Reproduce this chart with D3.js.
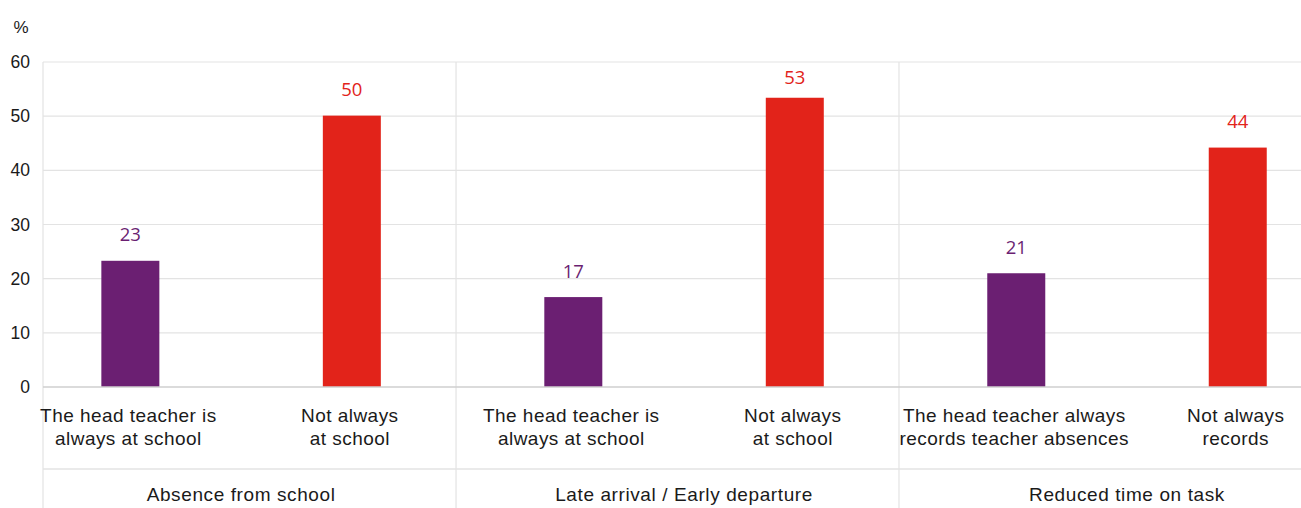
<!DOCTYPE html>
<html><head><meta charset="utf-8">
<script src="https://cdn.jsdelivr.net/npm/d3@7"></script>
<style>
html,body{margin:0;padding:0;background:#fff;}
svg{display:block;}
</style></head>
<body>
<svg id="chart" width="1301" height="508"></svg>
<script>
// ---- data ----
const groups = ["Absence from school", "Late arrival / Early departure", "Reduced time on task"];
const categories = [
  ["The head teacher is", "always at school"],
  ["Not always", "at school"],
  ["The head teacher is", "always at school"],
  ["Not always", "at school"],
  ["The head teacher always", "records teacher absences"],
  ["Not always", "records"]
];
const categoryGroup = [0, 0, 1, 1, 2, 2];
const categoryType = ["always", "notAlways", "always", "notAlways", "always", "notAlways"];
const values = [23.3, 50.1, 16.6, 53.4, 21.0, 44.2];
const valueLabels = ["23", "50", "17", "53", "21", "44"];
const yTicks = [0, 10, 20, 30, 40, 50, 60];
const yUnit = "%";

// ---- layout ----
(function () {
const pLeft = 43, pRight = 1301, pTop = 62, zeroY = 387, pBottom = 508;
const colors = {always: "#6b1f72", notAlways: "#e2231a"};
const grid = "#e3e3e3";
const labelFont = "'Liberation Sans', Arial, sans-serif";

const svg = d3.select("#chart");
const idx = d3.range(categories.length);

const x = d3.scalePoint().domain(idx).range([pLeft, pRight]).padding(0.34).align(0.58);
const bw = 58;
const y = d3.scaleLinear().domain([0, 60]).range([zeroY, pTop]);

// gridlines
svg.append("g").selectAll("line").data(yTicks.filter(t => t > 0)).join("line")
  .attr("x1", pLeft).attr("x2", pRight)
  .attr("y1", d => y(d)).attr("y2", d => y(d))
  .attr("stroke", grid).attr("stroke-width", 1.2);

// dividers between groups
const dividerX = [];
for (let i = 1; i < categories.length; i++) {
  if (categoryGroup[i] !== categoryGroup[i - 1]) {
    const r = x(i - 1) + bw / 2, l = x(i) - bw / 2;
    dividerX.push(r + (l - r) * 0.46);
  }
}
const vlines = [pLeft, ...dividerX];
svg.append("g").selectAll("line").data(vlines).join("line")
  .attr("x1", d => d).attr("x2", d => d)
  .attr("y1", pTop).attr("y2", pBottom)
  .attr("stroke", grid).attr("stroke-width", 1.2);

// separator between category labels and group labels
svg.append("line").attr("x1", pLeft).attr("x2", pRight)
  .attr("y1", 469).attr("y2", 469).attr("stroke", grid).attr("stroke-width", 1.5);

// bars
svg.append("g").selectAll("rect").data(idx).join("rect")
  .attr("x", i => x(i) - bw / 2).attr("width", bw)
  .attr("y", i => y(values[i])).attr("height", i => y(0) - y(values[i]))
  .attr("fill", i => colors[categoryType[i]]);

// zero axis line
svg.append("line").attr("x1", pLeft).attr("x2", pRight)
  .attr("y1", y(0)).attr("y2", y(0)).attr("stroke", "#cfcfcf").attr("stroke-width", 1.5);

// value labels
svg.append("g").selectAll("text").data(idx).join("text")
  .attr("x", i => x(i)).attr("y", i => Math.max(y(values[i]) - 19.5, 84))
  .attr("text-anchor", "middle")
  .attr("font-family", "'Open Sans', 'Noto Sans', sans-serif")
  .attr("font-size", 18.5)
  .attr("fill", i => colors[categoryType[i]])
  .text(i => valueLabels[i]);

// y axis tick labels
const yAxis = d3.axisLeft(y).tickValues(yTicks).tickSize(0).tickPadding(0);
const yg = svg.append("g").attr("transform", "translate(30,0)").call(yAxis);
yg.select(".domain").remove();
yg.selectAll("text").attr("font-family", labelFont)
  .attr("font-size", 17.5).attr("fill", "#1a1a1a");

svg.append("text").attr("x", 21).attr("y", 33).attr("text-anchor", "middle")
  .attr("font-family", labelFont).attr("font-size", 17)
  .attr("fill", "#1a1a1a").text(yUnit);

// category labels
const cat = svg.append("g").selectAll("text").data(idx).join("text")
  .attr("text-anchor", "middle")
  .attr("font-family", labelFont)
  .attr("font-size", 19).attr("letter-spacing", 0.45).attr("fill", "#1a1a1a");
cat.each(function(i) {
  const t = d3.select(this);
  categories[i].forEach((line, k) => {
    t.append("tspan").attr("x", x(i) - 2).attr("y", 422 + k * 23).text(line);
  });
});

// group labels
svg.append("g").selectAll("text").data(groups).join("text")
  .attr("x", (g, gi) => {
    const members = idx.filter(i => categoryGroup[i] === gi);
    return d3.mean(members, i => x(i));
  })
  .attr("y", 501)
  .attr("text-anchor", "middle")
  .attr("font-family", labelFont)
  .attr("font-size", 19).attr("letter-spacing", 0.6).attr("fill", "#1a1a1a")
  .text(g => g);
})();
</script>
</body></html>
